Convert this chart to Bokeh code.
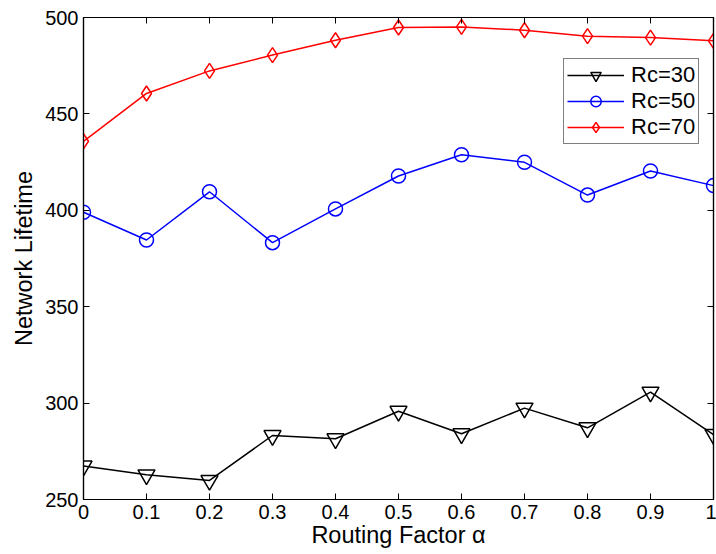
from bokeh.plotting import figure
from bokeh.models import FixedTicker, LinearAxis, Legend, LegendItem, Range1d
from bokeh.embed import file_html
from bokeh.resources import INLINE

alpha = [0.0, 0.1, 0.2, 0.3, 0.4, 0.5, 0.6, 0.7, 0.8, 0.9, 1.0]
rc30 = [267.4, 262.8, 259.9, 283.2, 281.5, 295.8, 284.1, 297.4, 287.2, 305.7, 283.7]
rc50 = [399.0, 384.6, 409.6, 383.2, 400.7, 417.8, 428.8, 424.9, 407.9, 420.4, 412.8]
rc70 = [435.8, 460.6, 472.3, 480.5, 488.2, 494.8, 495.1, 493.4, 490.3, 489.6, 487.9]
x_ticks = [0, 0.1, 0.2, 0.3, 0.4, 0.5, 0.6, 0.7, 0.8, 0.9, 1]
x_tick_labels = ["0", "0.1", "0.2", "0.3", "0.4", "0.5", "0.6", "0.7", "0.8", "0.9", "1"]
y_ticks = [250, 300, 350, 400, 450, 500]

FONT = "Liberation Sans"

p = figure(frame_width=630, frame_height=482, output_backend="svg", toolbar_location=None,
           x_range=Range1d(0, 1), y_range=Range1d(250, 500),
           min_border_left=83, min_border_right=3, min_border_top=17, min_border_bottom=54)
p.background_fill_color = "white"
p.border_fill_color = "white"
p.outline_line_color = "black"
p.outline_line_width = 1.2
p.grid.visible = False

def style_axis(ax, show_labels=True):
    ax.major_tick_in = 6
    ax.major_tick_out = 0
    ax.minor_tick_in = 0
    ax.minor_tick_out = 0
    ax.axis_line_color = "black"
    ax.axis_line_width = 1.2
    ax.major_tick_line_color = "black"
    ax.major_label_text_font = FONT
    ax.major_label_text_color = "black"
    ax.major_label_text_font_size = "20px" if show_labels else "0px"
    ax.axis_label_text_font = FONT
    ax.axis_label_text_font_style = "normal"
    ax.axis_label_text_font_size = "23.5px"
    ax.axis_label_text_color = "black"

xa = p.xaxis[0]
xa.ticker = FixedTicker(ticks=x_ticks)
xa.major_label_overrides = {t: l for t, l in zip(x_ticks, x_tick_labels)}
xa.axis_label = "Routing Factor α"
style_axis(xa)
xa.major_label_standoff = 5
xa.axis_label_standoff = 0

ya = p.yaxis[0]
ya.ticker = FixedTicker(ticks=y_ticks)
ya.axis_label = "Network Lifetime"
style_axis(ya)
ya.major_label_standoff = 5
ya.axis_label_standoff = 5

top = LinearAxis(ticker=FixedTicker(ticks=x_ticks), major_label_standoff=0)
style_axis(top, False)
top.major_label_overrides = {t: "" for t in x_ticks}
p.add_layout(top, "above")
right = LinearAxis(ticker=FixedTicker(ticks=y_ticks), major_label_standoff=0)
style_axis(right, False)
right.major_label_overrides = {t: "" for t in y_ticks}
p.add_layout(right, "right")

l30 = p.line(alpha, rc30, line_color="black", line_width=1.5)
m30 = p.scatter(alpha, rc30, marker="inverted_triangle", size=17, line_color="black",
                fill_color=None, line_width=1.5)
l50 = p.line(alpha, rc50, line_color="#0000ff", line_width=1.5)
m50 = p.scatter(alpha, rc50, marker="circle", size=14, line_color="#0000ff",
                fill_color=None, line_width=1.5)
l70 = p.line(alpha, rc70, line_color="#ff0000", line_width=1.5)
m70 = p.scatter(alpha, rc70, marker="diamond", size=15,
                line_color="#ff0000", fill_color=None, line_width=1.5)

legend = Legend(items=[
    LegendItem(label="Rc=30", renderers=[l30, m30]),
    LegendItem(label="Rc=50", renderers=[l50, m50]),
    LegendItem(label="Rc=70", renderers=[l70, m70]),
], location=(480, 355))
legend.label_text_font = FONT
legend.label_text_font_size = "22px"
legend.label_text_color = "black"
legend.glyph_width = 57
legend.glyph_height = 26
legend.label_height = 26
legend.label_width = 63
legend.label_standoff = 7
legend.spacing = 0
legend.padding = 3
legend.margin = 0
legend.border_line_color = "black"
legend.border_line_width = 1.2
legend.background_fill_color = "white"
legend.background_fill_alpha = 1
p.add_layout(legend, "center")

open("out.html", "w").write(file_html(p, INLINE))
